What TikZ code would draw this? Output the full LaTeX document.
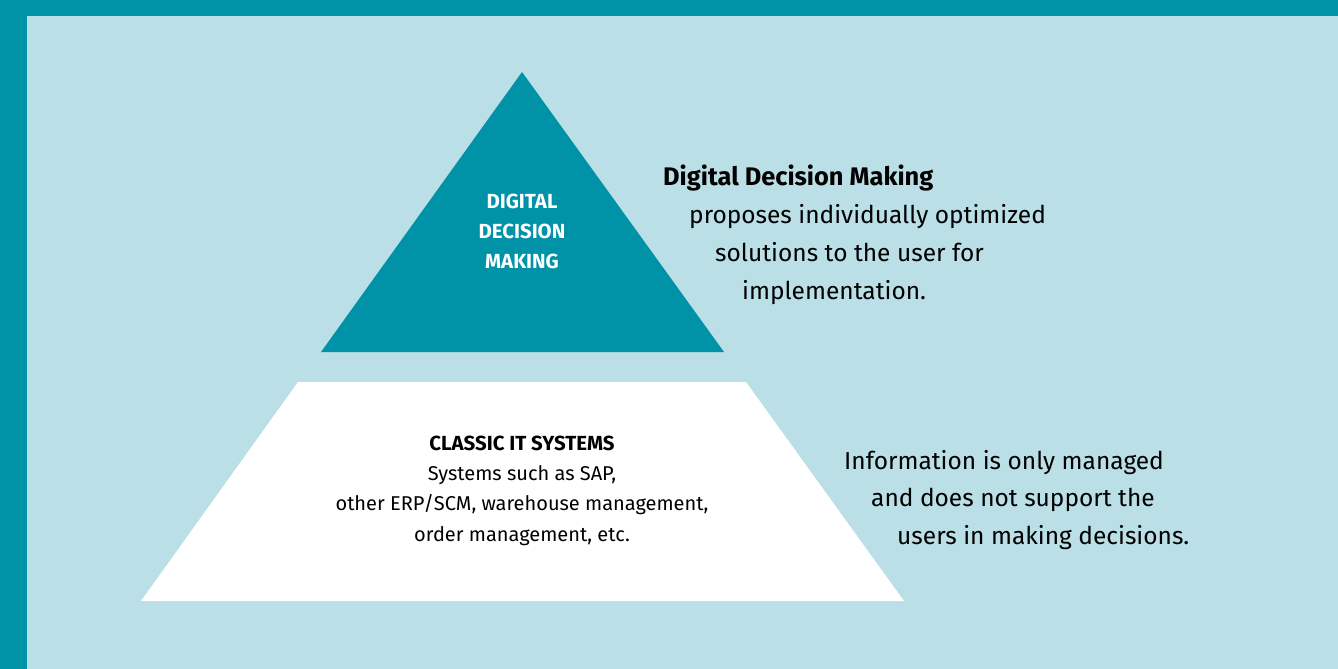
\documentclass[tikz,border=0pt]{standalone}
\usepackage{fontspec}
\setmainfont{Fira Sans}
\usetikzlibrary{backgrounds}
\definecolor{teal}{HTML}{0093A8}
\definecolor{pale}{HTML}{BADFE6}

\begin{document}
\begin{tikzpicture}[x=1pt,y=-1pt]
	% frame
	\fill[pale] (0,0) rectangle (1338,669);
	\fill[teal] (0,0) rectangle (1338,16);
	\fill[teal] (0,0) rectangle (27,669);
	\useasboundingbox (0,0) rectangle (1338,669);

	% pyramid
	\coordinate (apex) at (522,72);
	\coordinate (tl) at (321,352);
	\coordinate (tr) at (724,352);
	\coordinate (bl) at (298,382);
	\coordinate (br) at (746,382);
	\coordinate (bbl) at (141,601);
	\coordinate (bbr) at (904,601);
	\fill[teal] (apex) -- (tr) -- (tl) -- cycle;
	\fill[white] (bl) -- (br) -- (bbr) -- (bbl) -- cycle;

	\begin{scope}[every node/.style={inner sep=0pt, font=\fontsize{20}{30.5}\selectfont}]
		\node[white, align=center, font=\bfseries\fontsize{20.4}{30}\selectfont] (ddm) at (522,231) {DIGITAL\\DECISION\\MAKING};
		\node[font=\bfseries\fontsize{20.4}{30}\selectfont] (cit) at (522,443) {CLASSIC IT SYSTEMS};
		\node[align=center, anchor=north] (citdesc) at (522,465) {Systems such as SAP,\\other ERP/SCM, warehouse management,\\order management, etc.};
	\end{scope}

	\begin{scope}[every node/.style={anchor=base west, inner sep=0pt, font=\fontsize{24.5}{38}\selectfont}]
		\node[font=\bfseries\fontsize{25.4}{38}\selectfont] (head) at (663,185) {Digital Decision Making};
		\node (up1) at (689,223) {proposes individually optimized};
		\node (up2) at (715,261) {solutions to the user for};
		\node (up3) at (742,299) {implementation.};
		\node (low1) at (844,469) {Information is only managed};
		\node (low2) at (871,506) {and does not support the};
		\node (low3) at (897,544) {users in making decisions.};
	\end{scope}
\end{tikzpicture}
\end{document}
